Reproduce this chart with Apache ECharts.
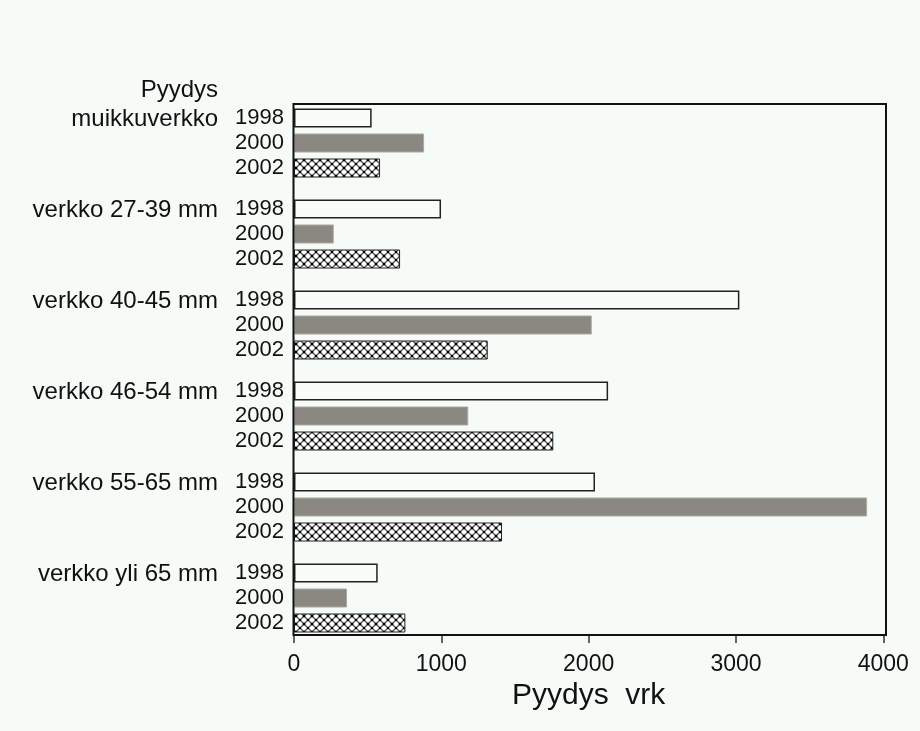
<!DOCTYPE html>
<html>
<head>
<meta charset="utf-8">
<script src="https://cdn.jsdelivr.net/npm/echarts@6/dist/echarts.min.js"></script>
<style>
html,body{margin:0;padding:0;background:#f7fbf7;}
#chart{width:920px;height:731px;}
</style>
</head>
<body>
<div id="chart"></div>
<script>
const groups = ['muikkuverkko','verkko 27-39 mm','verkko 40-45 mm','verkko 46-54 mm','verkko 55-65 mm','verkko yli 65 mm'];
const years = ['1998','2000','2002'];
const v1998 = [527, 998, 3023, 2132, 2043, 568];
const v2000 = [883, 270, 2021, 1183, 3890, 360];
const v2002 = [584, 720, 1315, 1760, 1412, 756];
const xMin = 0, xMax = 4000, xInterval = 1000;

const FONT = '"Liberation Sans", Arial, sans-serif';

function makePattern(){
  const c = document.createElement('canvas');
  c.width = 8; c.height = 8;
  const g = c.getContext('2d');
  g.fillStyle = '#ffffff';
  g.fillRect(0,0,8,8);
  g.strokeStyle = '#555';
  g.lineWidth = 1.4;
  g.beginPath();
  g.moveTo(0,0); g.lineTo(8,8);
  g.moveTo(8,0); g.lineTo(0,8);
  g.stroke();
  g.fillStyle = '#000';
  g.fillRect(3,3,2,2);
  g.fillRect(0,0,1.2,1.2); g.fillRect(6.8,0,1.2,1.2); g.fillRect(0,6.8,1.2,1.2); g.fillRect(6.8,6.8,1.2,1.2);
  return c;
}

const chart = echarts.init(document.getElementById('chart'), null, {renderer:'canvas'});
const labelStyle = {show:true, position:'left', distance:10, formatter:'{a}', fontSize:22, color:'#111', fontFamily:FONT};
const colors = {
  '1998': {color:'#f9fcf9', borderColor:'#222', borderWidth:1.5},
  '2000': {color:'#8a8880', borderColor:'#aaa9a2', borderWidth:1},
  '2002': {color:{image:makePattern(), repeat:'repeat'}, borderColor:'#222', borderWidth:1}
};
const vals = {'1998':v1998,'2000':v2000,'2002':v2002};

chart.setOption({
  animation:false,
  backgroundColor:'#f7fbf7',
  grid:{left:294, top:97.5, width:589.3, height:546, outerBoundsMode:'none', containLabel:false},
  xAxis:{
    type:'value', min:xMin, max:xMax, interval:xInterval, offset:-8.5,
    axisLine:{show:false},
    axisTick:{show:true, length:8, lineStyle:{color:'#333', width:1.5}},
    splitLine:{show:false},
    axisLabel:{fontSize:23, color:'#111', fontFamily:FONT, margin:18, formatter: v => String(v)},
    name:'Pyydys  vrk', nameLocation:'middle', nameGap:40,
    nameTextStyle:{fontSize:30, color:'#111', fontFamily:FONT}
  },
  yAxis:{
    type:'category', data:groups, inverse:true,
    axisLine:{show:false}, axisTick:{show:false}, splitLine:{show:false},
    axisLabel:{fontSize:24, color:'#111', fontFamily:FONT, margin:76, lineHeight:24,
      formatter: v => v + '\n \n '}
  },
  graphic:[
    {type:'rect', z:100, shape:{x:293.5, y:104, width:592.5, height:531},
     style:{fill:null, stroke:'#111', lineWidth:2}},
    {type:'text', z:100, x:218, y:90,
     style:{text:'Pyydys', fontSize:24, fontFamily:FONT, fill:'#111', textAlign:'right', textVerticalAlign:'middle'}}
  ],
  series: years.map(y => ({
    name:y, type:'bar', data:vals[y], barWidth:19, barGap:'31.6%',
    itemStyle:colors[y], label:labelStyle
  }))
});
</script>
</body>
</html>
